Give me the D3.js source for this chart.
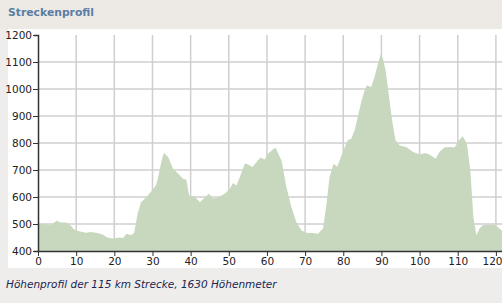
<!DOCTYPE html>
<html>
<head>
<meta charset="utf-8">
<script src="https://cdn.jsdelivr.net/npm/d3@7"></script>
<style>
  body { margin: 0; background: #eeedea; }
  svg { display: block; }
</style>
</head>
<body>
<div id="chart"></div>
<script>
// Streckenprofil: Distanz (km) und Höhe (m)
const km = [0, 1.5, 3, 4, 4.9, 6, 7.5, 8.5, 9.5, 10.8, 12.5, 13.9, 15.6, 16.9, 18.2, 19.5, 21.3, 22.3, 23.2, 24.3, 25.2,
  26.1, 27, 28.3, 29.6, 30.9, 31.5, 32.4, 33, 34.1, 35.4, 36.7, 38, 38.9, 39.6, 41.1, 42.4, 43.7, 44.8, 45.9, 47.2,
  48.9, 50.3, 51.1, 52, 52.9, 54.2, 55.1, 56.2, 57.3, 58.3, 59.4, 60.3, 62.2, 63.8, 65.1, 66.4, 67.7, 69, 70.3, 72.1,
  73.4, 74.7, 75.6, 76.4, 77.5, 78.4, 79.2, 80.4, 81.2, 82.1, 83, 83.8, 84.7, 85.6, 86.2, 87.3, 88.2, 89.1, 89.8,
  90.4, 91.1, 92, 92.8, 93.7, 94.8, 96.5, 98.3, 100, 101.7, 103, 104.2, 105.2, 106.5, 107.9, 109.2, 110.3, 111.3,
  112.4, 113.3, 114.1, 114.9, 115.7, 116.6, 119.2, 120.5, 121.6];
const hoehe = [502, 500, 496, 503, 512, 506, 506, 495, 479, 473, 468, 470, 467, 461, 450, 446, 450, 448, 464, 458, 467,
  538, 581, 598, 619, 643, 674, 736, 764, 748, 705, 687, 668, 664, 606, 602, 581, 598, 612, 594, 598,
  612, 631, 652, 643, 674, 724, 720, 711, 730, 746, 739, 761, 783, 736, 637, 563, 507, 477, 468, 467,
  464, 483, 575, 674, 724, 711, 742, 785, 810, 816, 847, 896, 952, 995, 1014, 1007, 1044, 1094, 1128,
  1113, 1069, 970, 884, 810, 791, 785, 767, 758, 763, 754, 742, 767, 783, 785, 783, 810, 825,
  798, 699, 526, 458, 483, 495, 498, 489, 475];
const xTicks = [0, 10, 20, 30, 40, 50, 60, 70, 80, 90, 100, 110, 120];
const yTicks = [400, 500, 600, 700, 800, 900, 1000, 1100, 1200];
const titel = "Streckenprofil";
const untertitel = "Höhenprofil der 115 km Strecke, 1630 Höhenmeter";

const W = 502, H = 303;
const svg = d3.select('#chart').append('svg')
    .attr('width', W)
    .attr('height', H);

// Hintergründe
svg.append('rect').attr('width', W).attr('height', 29).attr('fill', '#edeae5');
svg.append('rect').attr('x', 0).attr('y', 268).attr('width', W).attr('height', H - 268).attr('fill', '#eeedeb');
svg.append('rect').attr('x', 0).attr('y', 29).attr('width', 8).attr('height', 239).attr('fill', '#eeedeb');
svg.append('rect').attr('x', 8).attr('y', 29).attr('width', W - 8).attr('height', 239).attr('fill', '#ffffff');

svg.append('text')
    .attr('x', 8).attr('y', 16)
    .attr('font-family', 'DejaVu Sans, Verdana, sans-serif')
    .attr('font-weight', 'bold')
    .attr('font-size', 10.8)
    .attr('fill', '#5a7ea3')
    .text(titel);

svg.append('text')
    .attr('x', 6).attr('y', 288)
    .attr('font-family', 'DejaVu Sans, Verdana, sans-serif')
    .attr('font-style', 'italic')
    .attr('font-size', 10.5)
    .attr('fill', '#1a2550')
    .text(untertitel);

const x = d3.scaleLinear().domain([0, 121.6]).range([38, 502]);
const y = d3.scaleLinear().domain([400, 1200]).range([251, 35]);

// Gitter
svg.append('g').selectAll('line')
    .data(xTicks.slice(1))
    .enter().append('line')
    .attr('x1', d => x(d)).attr('x2', d => x(d))
    .attr('y1', y(1200)).attr('y2', y(400))
    .attr('stroke', '#cfcfcf').attr('stroke-width', 1.5);
svg.append('g').selectAll('line')
    .data(yTicks.slice(1, -1))
    .enter().append('line')
    .attr('x1', x(0)).attr('x2', W)
    .attr('y1', d => y(d)).attr('y2', d => y(d))
    .attr('stroke', '#cfcfcf').attr('stroke-width', 1.5);

// Fläche
const punkte = km.map((k, i) => ({ km: k, h: hoehe[i] }));
const area = d3.area()
    .x(d => x(d.km))
    .y0(y(400))
    .y1(d => y(d.h));
svg.append('path')
    .datum(punkte)
    .attr('d', area)
    .attr('fill', '#c8d8bf');

// Achsen
const xAxis = svg.append('g')
    .attr('transform', `translate(0,${y(400)})`)
    .call(d3.axisBottom(x).tickValues(xTicks).tickFormat(d3.format('d')).tickSize(5).tickSizeOuter(0));
const yAxis = svg.append('g')
    .attr('transform', `translate(${x(0)},0)`)
    .call(d3.axisLeft(y).tickValues(yTicks).tickFormat(d3.format('d')).tickSize(5).tickSizeOuter(4));

[xAxis, yAxis].forEach(g => {
  g.select('.domain').attr('stroke', '#333').attr('stroke-width', 1.5);
  g.selectAll('.tick line').attr('stroke', '#333');
  g.selectAll('.tick text')
    .attr('font-family', 'DejaVu Sans, Verdana, sans-serif')
    .attr('font-size', 10.5)
    .attr('fill', '#222');
});
yAxis.selectAll('.tick text').attr('x', -6);
xAxis.selectAll('.tick text').attr('y', 7);
// letzte Beschriftung am Rand halten
xAxis.selectAll('.tick text').filter(d => d === 120)
    .attr('text-anchor', 'end')
    .attr('x', W - x(120));
</script>
</body>
</html>
